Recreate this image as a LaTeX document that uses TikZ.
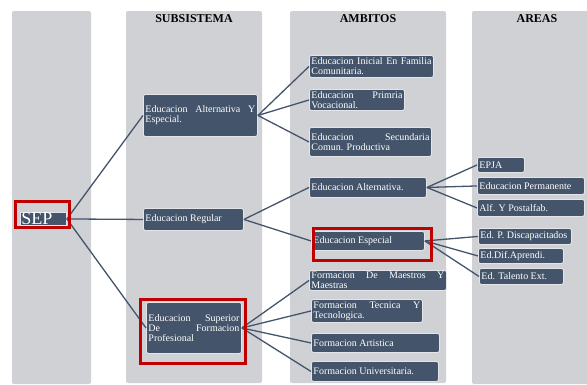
\documentclass[tikz,border=0pt]{standalone}
\usepackage{fontspec}
\setmainfont{Liberation Serif}
\pretolerance=10000
\hyphenpenalty=10000
\definecolor{slate}{HTML}{44546A}
\definecolor{colgray}{HTML}{D0D1D5}
\definecolor{boxedge}{HTML}{E4E5E8}
\definecolor{hired}{HTML}{C00000}
\begin{document}
\begin{tikzpicture}[x=1pt,y=-1pt,
  column/.style={fill=colgray, draw=none, rounded corners=2pt},
  header/.style={font=\fontsize{12}{12}\selectfont\bfseries, text=black, inner sep=0pt},
  box/.style={draw=boxedge, line width=0.9pt, fill=slate, text=white, rounded corners=2pt,
    font=\fontsize{10}{10}\selectfont, align=justify, inner xsep=2pt, inner ysep=0.5pt, anchor=north west},
  conn/.style={draw=slate, line width=1.3pt},
  redframe/.style={draw=hired, line width=3pt}]
\useasboundingbox (0,0) rectangle (587,384);
% columns
\fill[column] (12,11) rectangle (91,384);
\fill[column] (126,11) rectangle (262,383);
\fill[column] (290,11) rectangle (446,383);
\fill[column] (472,11) rectangle (590,384);
% headers
\node[header] (h1) at (194,19) {SUBSISTEMA};
\node[header] (h2) at (368,19) {AMBITOS};
\node[header] (h3) at (537,19) {AREAS};
% SEP
\node[box, font=\fontsize{18}{18}\selectfont, text width=44pt, align=left, text height=12pt, text depth=0pt, inner xsep=1pt, inner ysep=0.5pt, rounded corners=0pt] (sep) at (20,212) {SEP};
% subsistema
\node[box, text width=110pt, minimum height=42pt] (alt) at (143,94) {Educacion Alternativa Y\linebreak Especial.};
\node[box, text width=96pt, minimum height=22pt] (reg) at (143,208) {Educacion Regular};
\node[box, text width=91pt, minimum height=51pt] (sup) at (146,302) {Educacion Superior\linebreak De Formacion\linebreak Profesional};
% ambitos
\node[box, text width=120pt, minimum height=22pt] (ini) at (309,55) {Educacion Inicial En Familia\linebreak Comunitaria.};
\node[box, text width=91pt, minimum height=21pt] (pri) at (309,89) {Educacion Primria\linebreak Vocacional.};
\node[box, text width=118pt, minimum height=29pt] (sec) at (309,127) {Educacion Secundaria\linebreak Comun. Productiva};
\node[box, text width=113pt, minimum height=20pt] (alta) at (309,177) {Educacion Alternativa.};
\node[box, text width=109pt, minimum height=19pt] (esp) at (311,231) {Educacion Especial};
\node[box, text width=133pt, minimum height=20pt] (mae) at (309,270) {Formacion De Maestros Y\linebreak Maestras};
\node[box, text width=107pt, minimum height=23pt] (tec) at (311,299) {Formacion Tecnica Y\linebreak Tecnologica.};
\node[box, text width=124pt, minimum height=19pt] (art) at (311,333) {Formacion Artistica};
\node[box, text width=123pt, minimum height=20pt] (uni) at (311,361) {Formacion Universitaria.};
% areas
\node[box, text width=43pt, minimum height=15pt] (epja) at (477,157) {EPJA};
\node[box, text width=103pt, minimum height=17pt] (perm) at (477,177) {Educacion Permanente};
\node[box, text width=103pt, minimum height=17pt] (alf) at (477,199) {Alf. Y Postalfab.};
\node[box, text width=89pt, minimum height=16pt] (disc) at (478,228) {Ed. P. Discapacitados};
\node[box, text width=81pt, minimum height=15pt] (dif) at (478,248) {Ed.Dif.Aprendi.};
\node[box, text width=80pt, minimum height=16pt] (tal) at (479,268) {Ed. Talento Ext.};
% connectors
\draw[conn] (sep.east) -- (alt.west);
\draw[conn] (sep.east) -- (reg.west);
\draw[conn] (sep.east) -- (sup.west);
\draw[conn] (alt.east) -- (ini.west);
\draw[conn] (alt.east) -- (pri.west);
\draw[conn] (alt.east) -- (sec.west);
\draw[conn] (reg.east) -- (alta.west);
\draw[conn] (reg.east) -- (esp.west);
\draw[conn] (sup.east) -- (mae.west);
\draw[conn] (sup.east) -- (tec.west);
\draw[conn] (sup.east) -- (art.west);
\draw[conn] (sup.east) -- (uni.west);
\draw[conn] (alta.east) -- (epja.west);
\draw[conn] (alta.east) -- (perm.west);
\draw[conn] (alta.east) -- (alf.west);
\draw[conn] (esp.east) -- (disc.west);
\draw[conn] (esp.east) -- (dif.west);
\draw[conn] (esp.east) -- (tal.west);
% highlight frames
\draw[redframe] (15.5,201.5) rectangle (69.5,227.5);
\draw[redframe] (140.5,299.5) rectangle (245.5,363.5);
\draw[redframe] (313.5,228.5) rectangle (431.5,260.5);
\end{tikzpicture}
\end{document}
